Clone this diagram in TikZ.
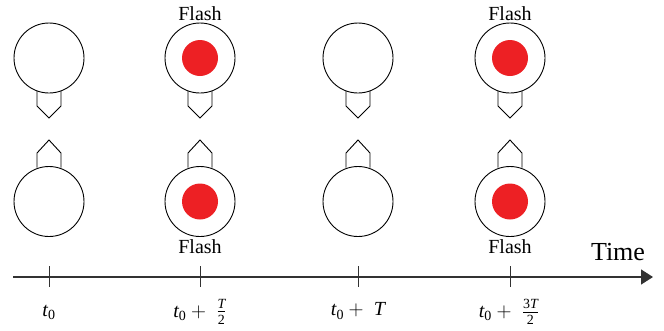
\documentclass[tikz,border=0pt]{standalone}
\usepackage{amsmath}
\usepackage{fontspec}
\setmainfont{Liberation Serif}
\usetikzlibrary{arrows.meta}

\newcommand{\tvar}[1]{\text{\itshape #1}}

\begin{document}
\begin{tikzpicture}[x=1pt, y=-1pt]
  % Colors
  \definecolor{flashcol}{RGB}{237,32,36}
  \definecolor{axiscol}{RGB}{50,50,50}
  %
  \def\ty{58}
  \def\by{201.5}
  \def\ay{277}
  %
  \tikzset{
    lamp/.style={draw, line width=0.9pt, circle, minimum size=70pt, inner sep=0pt},
    flashdot/.style={circle, fill=flashcol, minimum size=36pt, inner sep=0pt},
    flashlab/.style={font=\fontsize{20}{22}\selectfont, inner sep=0pt},
    ticklab/.style={font=\fontsize{20}{22}\selectfont, inner sep=0pt},
    stem/.style={line width=0.9pt, line join=miter},
  }
  \useasboundingbox (0,0) rectangle (664,330);
  %
  %%% LAMPS %%%
  \foreach \n/\xx/\lit in {1/49/0, 2/200/1, 3/358/0, 4/510/1} {
    % top lamp, pointing down
    \node[lamp] (top\n) at (\xx, \ty) {};
    \draw[stem] (\xx-12, \ty+33) -- (\xx-12, \ty+48) -- (\xx, \ty+60)
                -- (\xx+12, \ty+48) -- (\xx+12, \ty+33);
    % bottom lamp, pointing up
    \node[lamp] (bot\n) at (\xx, \by) {};
    \draw[stem] (\xx-12, \by-34) -- (\xx-12, \by-48.5) -- (\xx, \by-61.5)
                -- (\xx+12, \by-48.5) -- (\xx+12, \by-34);
    \ifnum\lit=1
      \node[flashdot] (topdot\n) at (top\n) {};
      \node[flashdot] (botdot\n) at (bot\n) {};
      \node[flashlab] (toplab\n) at (\xx, 14) {Flash};
      \node[flashlab] (botlab\n) at (\xx, 247) {Flash};
    \fi
    % tick
    \draw[axiscol, line width=1pt] (\xx, \ay-11) -- (\xx, \ay+10);
  }
  %
  %%% TIME AXIS %%%
  \coordinate (axstart) at (13, \ay);
  \coordinate (axend) at (653, \ay);
  \draw[axiscol, line width=1.3pt, -{Triangle[length=12pt, width=15pt]}] (axstart) -- (axend);
  \node[font=\fontsize{26}{28}\selectfont, inner sep=0pt] (timelab) at (618, 252) {Time};
  %
  % tick labels
  \node[ticklab] (lab1) at (49, 312) {$\tvar{t}_{\text{0}}$};
  \node[ticklab] (lab2) at (200, 312) {$\tvar{t}_{\text{0}} +\;\frac{\tvar{T}}{\text{2}}$};
  \node[ticklab] (lab3) at (358, 311) {$\tvar{t}_{\text{0}} +\;\tvar{T}$};
  \node[ticklab] (lab4) at (509, 312) {$\tvar{t}_{\text{0}} +\;\frac{\text{3}\tvar{T}}{\text{2}}$};
\end{tikzpicture}
\end{document}
